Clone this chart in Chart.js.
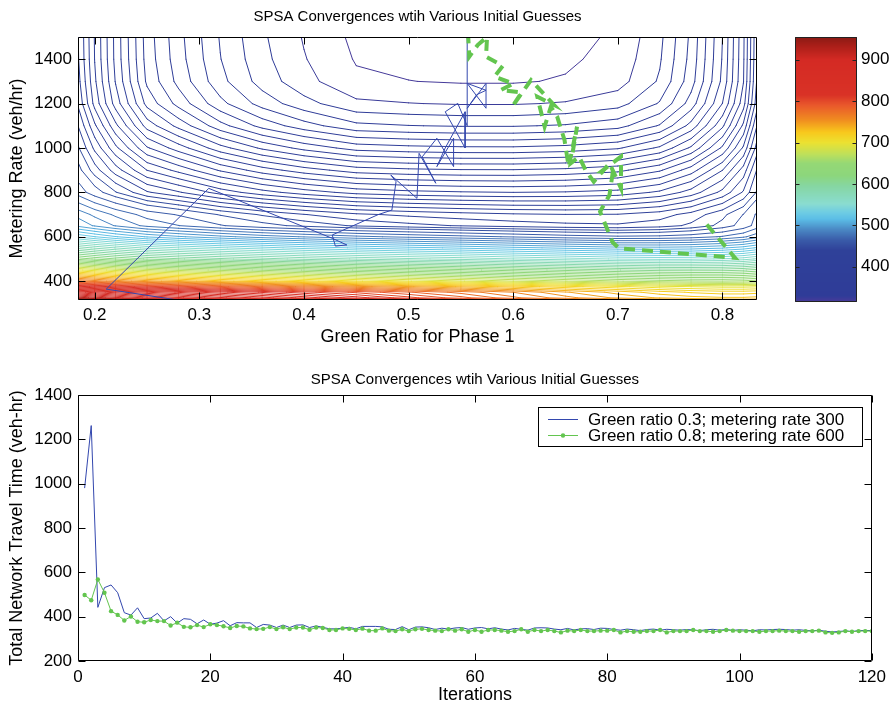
<!DOCTYPE html>
<html>
<head>
<meta charset="utf-8">
<script src="https://cdn.jsdelivr.net/npm/chart.js@4.4.1/dist/chart.umd.min.js"></script>
<style>
  html, body { margin: 0; padding: 0; background: #fff; }
  #page { position: relative; width: 892px; height: 706px; overflow: hidden; }
  canvas { position: absolute; }
</style>
</head>
<body>
<div id="page">
  <canvas id="contour" width="770" height="350" style="left:0;top:0"></canvas>
  <canvas id="colorbar" width="132" height="350" style="left:760px;top:0"></canvas>
  <canvas id="history" width="892" height="356" style="left:0;top:350px"></canvas>
</div>
<script>
// ---- surface: total network travel time over (green ratio, metering rate) ----
const greenCols = [0.18, 0.20, 0.22, 0.25, 0.28, 0.32, 0.36, 0.40, 0.45, 0.50, 0.55, 0.60, 0.65, 0.70, 0.74, 0.77, 0.80, 0.82, 0.84];
const meterRows = [300, 325, 350, 375, 400, 450, 500, 550, 600, 650, 700, 800, 900, 1000, 1100, 1200, 1300, 1400, 1500];
const costGrid = [
  [1008, 997, 986, 971, 958, 940, 924, 907, 887, 868, 849, 830, 811, 793, 779, 770, 762, 758, 756],
  [927, 917, 907, 894, 882, 866, 852, 837, 820, 803, 787, 770, 755, 742, 735, 731, 729, 729, 731],
  [885, 876, 868, 856, 847, 834, 823, 811, 798, 785, 773, 760, 745, 733, 724, 719, 716, 716, 718],
  [830, 822, 814, 804, 796, 786, 776, 766, 755, 745, 735, 725, 715, 706, 699, 696, 694, 694, 696],
  [771.8, 764, 757, 747.2, 740.2, 730.6, 722.6, 714.8, 705, 696.4, 688.6, 680, 672.2, 664.6, 659.8, 657.2, 656.4, 657.6, 661.8],
  [699, 692, 685, 676, 669.4, 661.8, 654.2, 647.6, 639.4, 632.8, 626.6, 620, 613.8, 608.2, 605, 604.4, 604.8, 607.2, 613],
  [630.6, 623, 616, 607, 601, 594, 587.6, 581.6, 575.2, 569.8, 565.4, 560, 555.6, 551.2, 549.8, 550.4, 552.6, 556.2, 563.8],
  [582.6, 574.6, 567.6, 558, 552, 545, 539, 533, 527, 522.6, 518.6, 514.2, 510.2, 506.8, 506.4, 507.4, 511, 515.6, 524.2],
  [536.2, 528.2, 520.6, 511.2, 505.2, 498.2, 492.2, 487.4, 482, 478, 474.6, 471.2, 467.8, 465.4, 466, 468.2, 472.8, 478.4, 488.6],
  [503.6, 495, 487.3, 477.8, 472.2, 464.7, 458.6, 454.1, 449.1, 446, 443.5, 441.4, 439.7, 439, 441.1, 445.3, 452, 459.2, 471.9],
  [495, 486, 478.4, 468.7, 463.3, 455.4, 449.2, 444.3, 439.2, 436.6, 434.6, 433, 432.2, 432.4, 435.3, 440.3, 448.3, 456.2, 470.1],
  [470.6, 459.6, 450.4, 438.8, 432.7, 423.5, 416.4, 411, 405.9, 403.8, 402.6, 402, 402.5, 404.2, 409.2, 416.6, 427.8, 438.8, 457.3],
  [461.3, 446.9, 434.9, 419.9, 412.1, 401.2, 392.9, 386.8, 381.1, 379.4, 378.6, 378.5, 379.6, 382.3, 389.1, 399.1, 413.9, 428.6, 453.1],
  [454.5, 436.5, 421.5, 402.7, 393, 380.3, 370.9, 364, 357.5, 355.9, 355.1, 355, 356.2, 359.2, 367.1, 379.1, 397.2, 415, 445.2],
  [448.2, 427.1, 409.5, 387.5, 376.1, 362.2, 352, 344.6, 337.6, 336.2, 335.5, 335.5, 336.6, 339.7, 348.6, 362.2, 382.8, 403.3, 438.3],
  [441.8, 417.9, 399.3, 376, 363.9, 349.8, 339.6, 332.2, 325.3, 324.2, 323.5, 323.5, 324.5, 327.6, 336.6, 350.7, 372.1, 393.5, 430.3],
  [439.1, 415.1, 395.5, 370.8, 358.2, 343.9, 333.5, 326, 319.2, 318.1, 317.5, 317.5, 318.5, 321.5, 330.8, 345.4, 367.5, 389.7, 428.2],
  [437.5, 413.8, 394.2, 369.5, 356.6, 342.2, 331.8, 324.4, 317.5, 316.5, 316, 316, 317, 320, 329.3, 344, 366.5, 389.1, 427],
  [437, 413.5, 394, 369, 356, 341.5, 331, 323.5, 316.5, 315.5, 315, 315, 316, 319, 328.4, 343.3, 366, 388.8, 426.5]
];
const contourLevels = [
  318, 324, 330, 336, 342, 348, 354, 360, 366, 372, 378, 384, 390, 396, 402, 408, 414, 420, 426, 432, 438, 444, 450, 456,
  464, 472, 480, 488, 496, 504, 512, 520, 528, 536, 544,
  552, 560, 568, 576, 584, 592, 600, 608, 616, 624, 632, 640, 648, 656, 664, 672, 680, 688, 696, 704,
  712, 720, 728, 736, 744, 752, 760, 768, 776, 784, 792, 800, 808, 816, 824, 832, 840, 848, 856, 864,
  872, 880, 888, 896, 904, 912, 920, 928, 936, 944
];

// colour map (value -> colour), as on the colour bar
const colorStops = [
  [315, '#4a3a9a'], [330, '#2f3c98'], [440, '#2f4199'], [465, '#3a5ca9'], [490, '#4a88c4'],
  [515, '#5bbde6'], [530, '#6ccbe4'], [552, '#8adcd0'], [595, '#86d6a2'], [620, '#8cd67c'],
  [650, '#95d875'], [672, '#bee05a'], [700, '#ece131'], [725, '#f8c81c'], [755, '#f08c20'],
  [790, '#e9582b'], [815, '#d93226'], [900, '#d42a24'], [935, '#a81e18'], [955, '#8a1a14']
];
const colorbarTicks = [400, 500, 600, 700, 800, 900];

// SPSA trajectories in the (green ratio, metering rate) plane
const blueRunRatio = [0.300, 0.211, 0.309, 0.427, 0.441, 0.430, 0.427, 0.471, 0.484, 0.488, 0.483, 0.508, 0.510, 0.526, 0.513, 0.527, 0.543, 0.543, 0.527, 0.535, 0.554, 0.554, 0.535, 0.547, 0.556, 0.556, 0.574, 0.574, 0.556, 0.565, 0.574, 0.556, 0.556];
const blueRunRate = [300, 364, 818, 593, 563, 558, 608, 700, 720, 848, 878, 773, 976, 841, 960, 1044, 916, 1044, 916, 1000, 1163, 1000, 1163, 1201, 1100, 1291, 1179, 1291, 1179, 1240, 1260, 1291, 1500];
const greenRunRatio = [0.785, 0.812, 0.701, 0.695, 0.683, 0.692, 0.695, 0.684, 0.703, 0.703, 0.692, 0.677, 0.669, 0.663, 0.655, 0.661, 0.653, 0.649, 0.642, 0.636, 0.630, 0.623, 0.639, 0.617, 0.599, 0.608, 0.588, 0.600, 0.582, 0.590, 0.574, 0.575, 0.566, 0.558, 0.557];
const greenRunRate = [655, 505, 548, 575, 713, 788, 886, 893, 961, 818, 931, 848, 901, 961, 931, 1096, 916, 1036, 1141, 1186, 1096, 1231, 1194, 1306, 1186, 1250, 1261, 1290, 1321, 1370, 1411, 1500, 1464, 1411, 1500];
const ratioTicks = [0.2, 0.3, 0.4, 0.5, 0.6, 0.7, 0.8];
const rateTicks = [400, 600, 800, 1000, 1200, 1400];

// total network travel time per iteration
const blueRunTime = [
  980, 1262, 442, 531, 543, 508, 418, 407, 440, 391, 394, 415, 381, 400, 371, 391, 388, 368, 385, 366,
  371, 382, 359, 373, 372, 372, 351, 365, 362, 351, 362, 351, 362, 363, 351, 358, 352, 345, 345, 348,
  352, 345, 356, 356, 356, 354, 343, 342, 355, 341, 353, 354, 350, 342, 348, 344, 349, 351, 343, 349,
  351, 345, 350, 344, 340, 347, 343, 339, 349, 350, 349, 344, 341, 347, 340, 345, 346, 342, 348, 347,
  342, 339, 344, 341, 337, 342, 344, 339, 343, 341, 339, 342, 340, 337, 341, 343, 339, 342, 338, 341,
  339, 336, 341, 340, 342, 343, 342, 339, 341, 338, 336, 339, 334, 331, 333, 336, 333, 337, 338, 337
];
const greenRunTime = [
  498, 474, 568, 508, 425, 408, 383, 401, 377, 375, 385, 380, 380, 360, 373, 354, 352, 362, 353, 366,
  362, 357, 349, 358, 356, 347, 344, 345, 353, 344, 352, 344, 351, 351, 341, 351, 349, 340, 340, 347,
  345, 340, 346, 337, 337, 347, 337, 335, 343, 335, 343, 345, 340, 337, 335, 343, 337, 343, 332, 340,
  332, 340, 340, 337, 332, 335, 343, 332, 340, 335, 340, 335, 329, 337, 335, 340, 335, 335, 337, 337,
  340, 329, 335, 332, 332, 335, 335, 340, 329, 335, 335, 335, 340, 335, 335, 332, 335, 340, 337, 335,
  335, 335, 332, 335, 335, 337, 335, 335, 332, 335, 335, 337, 329, 327, 329, 335, 332, 335, 335, 335
];
const iterationTicks = [0, 20, 40, 60, 80, 100, 120];
const timeTicks = [200, 400, 600, 800, 1000, 1200, 1400];

const BLUE = '#3347ae';
const GREEN = '#63c54f';
const FONT = '"Liberation Sans", Arial, Helvetica, sans-serif';
Chart.defaults.font.family = FONT;
Chart.defaults.font.size = 17;
Chart.defaults.color = '#000';

function hexRgb(h) {
  return [parseInt(h.slice(1, 3), 16), parseInt(h.slice(3, 5), 16), parseInt(h.slice(5, 7), 16)];
}
function colorAt(v) {
  if (v <= colorStops[0][0]) return colorStops[0][1];
  for (let k = 1; k < colorStops.length; k++) {
    if (v <= colorStops[k][0]) {
      const [v0, c0] = colorStops[k - 1], [v1, c1] = colorStops[k];
      const t = (v - v0) / (v1 - v0);
      const a = hexRgb(c0), b = hexRgb(c1);
      return 'rgb(' + a.map((x, i) => Math.round(x + t * (b[i] - x))).join(',') + ')';
    }
  }
  return colorStops[colorStops.length - 1][1];
}

// marching squares over the grid, drawn through the chart's scales
const contourPlugin = {
  id: 'contourLines',
  beforeDatasetsDraw(chart) {
    const { ctx, chartArea: a, scales: { x, y } } = chart;
    ctx.save();
    ctx.beginPath();
    ctx.rect(a.left, a.top, a.right - a.left, a.bottom - a.top);
    ctx.clip();
    ctx.lineCap = 'round';
    ctx.lineWidth = 1;
    for (const level of contourLevels) {
      ctx.strokeStyle = colorAt(level);
      ctx.beginPath();
      for (let j = 0; j < meterRows.length - 1; j++) {
        for (let i = 0; i < greenCols.length - 1; i++) {
          const c = [
            [greenCols[i], meterRows[j], costGrid[j][i]],
            [greenCols[i + 1], meterRows[j], costGrid[j][i + 1]],
            [greenCols[i + 1], meterRows[j + 1], costGrid[j + 1][i + 1]],
            [greenCols[i], meterRows[j + 1], costGrid[j + 1][i]]
          ];
          const hits = [];
          for (let e = 0; e < 4; e++) {
            const p = c[e], q = c[(e + 1) % 4];
            if ((p[2] < level) !== (q[2] < level)) {
              const t = (level - p[2]) / (q[2] - p[2]);
              hits.push([x.getPixelForValue(p[0] + t * (q[0] - p[0])), y.getPixelForValue(p[1] + t * (q[1] - p[1]))]);
            }
          }
          let pairs = [];
          if (hits.length === 2) pairs = [[0, 1]];
          else if (hits.length === 4) {
            const mid = (c[0][2] + c[1][2] + c[2][2] + c[3][2]) / 4;
            pairs = ((mid < level) === (c[0][2] < level)) ? [[0, 1], [2, 3]] : [[3, 0], [1, 2]];
          }
          for (const [s, t] of pairs) {
            ctx.moveTo(hits[s][0], hits[s][1]);
            ctx.lineTo(hits[t][0], hits[t][1]);
          }
        }
      }
      ctx.stroke();
    }
    ctx.restore();
  }
};

// MATLAB-like box with inward ticks on all four sides
function boxPlugin(len) {
  return {
    id: 'boxTicks',
    afterDatasetsDraw(chart) {
      const { ctx, chartArea: a, scales: { x, y } } = chart;
      const L = Math.round(a.left) + 0.5, R = Math.round(a.right) - 0.5;
      const T = Math.round(a.top) + 0.5, B = Math.round(a.bottom) - 0.5;
      ctx.save();
      ctx.strokeStyle = '#000';
      ctx.lineWidth = 1;
      ctx.beginPath();
      ctx.rect(L, T, R - L, B - T);
      x.ticks.forEach(t => {
        const px = Math.round(x.getPixelForValue(t.value)) + 0.5;
        ctx.moveTo(px, B); ctx.lineTo(px, B - len);
        ctx.moveTo(px, T); ctx.lineTo(px, T + len);
      });
      y.ticks.forEach(t => {
        const py = Math.round(y.getPixelForValue(t.value)) + 0.5;
        ctx.moveTo(L, py); ctx.lineTo(L + len, py);
        ctx.moveTo(R, py); ctx.lineTo(R - len, py);
      });
      ctx.stroke();
      ctx.restore();
    }
  };
}

function fixedTicks(list) {
  return s => { s.ticks = list.map(v => ({ value: v })); };
}
const plain = v => String(v);

// ---------- top: contour map with trajectories ----------
new Chart(document.getElementById('contour'), {
  type: 'scatter',
  data: {
    datasets: [
      {
        label: 'Green ratio 0.3; metering rate 300',
        data: blueRunRatio.map((g, k) => ({ x: g, y: blueRunRate[k] })),
        showLine: true, borderColor: BLUE, borderWidth: 1, pointRadius: 0, order: 1
      },
      {
        label: 'Green ratio 0.8; metering rate 600',
        data: greenRunRatio.map((g, k) => ({ x: g, y: greenRunRate[k] })),
        showLine: true, borderColor: GREEN, borderWidth: 4, borderDash: [11, 7], pointRadius: 0, order: 0
      }
    ]
  },
  options: {
    responsive: false,
    animation: false,
    layout: { padding: { right: 13 } },
    plugins: {
      legend: { display: false },
      tooltip: { enabled: false },
      title: {
        display: true, fullSize: false,
        text: 'SPSA Convergences wtih Various Initial Guesses',
        font: { size: 15, weight: 'normal' }, color: '#000',
        padding: { top: 8, bottom: 11 }
      }
    },
    scales: {
      x: {
        type: 'linear', min: 0.184, max: 0.833,
        afterFit: s => { s.height = 50; },
        afterBuildTicks: fixedTicks(ratioTicks),
        ticks: { padding: 5, callback: v => v.toFixed(1) },
        grid: { display: false, drawTicks: false },
        border: { display: false },
        title: { display: true, text: 'Green Ratio for Phase 1', font: { size: 18 }, padding: { top: 0, bottom: 2 } }
      },
      y: {
        type: 'linear', min: 315, max: 1500,
        afterFit: s => { s.width = 78; },
        afterBuildTicks: fixedTicks(rateTicks),
        ticks: { padding: 6, callback: plain },
        grid: { display: false, drawTicks: false },
        border: { display: false },
        title: { display: true, text: 'Metering Rate (veh/hr)', font: { size: 18 }, padding: { top: 6, bottom: 0 } }
      }
    }
  },
  plugins: [contourPlugin, boxPlugin(7)]
});

// ---------- colour bar ----------
const colorbarPlugin = {
  id: 'colorbarFill',
  beforeDatasetsDraw(chart) {
    const { ctx, chartArea: a, scales: { y } } = chart;
    ctx.save();
    for (let py = Math.floor(a.top); py < Math.ceil(a.bottom); py++) {
      ctx.fillStyle = colorAt(y.getValueForPixel(py + 0.5));
      ctx.fillRect(a.left, py, a.right - a.left, 1);
    }
    const L = Math.round(a.left) + 0.5, R = Math.round(a.right) - 0.5;
    ctx.strokeStyle = '#222';
    ctx.lineWidth = 1;
    ctx.beginPath();
    ctx.rect(L, Math.round(a.top) + 0.5, R - L, Math.round(a.bottom) - Math.round(a.top) - 1);
    y.ticks.forEach(t => {
      const py = Math.round(y.getPixelForValue(t.value)) + 0.5;
      ctx.moveTo(L, py); ctx.lineTo(L + 4, py);
      ctx.moveTo(R, py); ctx.lineTo(R - 4, py);
    });
    ctx.stroke();
    ctx.restore();
  }
};

new Chart(document.getElementById('colorbar'), {
  type: 'scatter',
  data: { datasets: [] },
  options: {
    responsive: false,
    animation: false,
    layout: { padding: { left: 35, top: 37, bottom: 48 } },
    plugins: { legend: { display: false }, tooltip: { enabled: false } },
    scales: {
      x: { display: false, min: 0, max: 1 },
      y: {
        position: 'right', min: 315, max: 955,
        afterFit: s => { s.width = 35; },
        afterBuildTicks: fixedTicks(colorbarTicks),
        ticks: { padding: 4, callback: plain },
        grid: { display: false, drawTicks: false },
        border: { display: false }
      }
    }
  },
  plugins: [colorbarPlugin]
});

// ---------- bottom: travel time per iteration ----------
const legendPlugin = {
  id: 'insideLegend',
  afterDraw(chart) {
    const { ctx } = chart;
    const left = 538.5, top = 57.5, w = 324, h = 39;
    ctx.save();
    ctx.fillStyle = '#fff';
    ctx.fillRect(left, top, w, h);
    ctx.strokeStyle = '#000';
    ctx.lineWidth = 1;
    ctx.strokeRect(left, top, w, h);
    ctx.font = '17px ' + FONT;
    ctx.textBaseline = 'middle';
    chart.data.datasets.forEach((ds, k) => {
      const cy = top + 12 + k * 16;
      ctx.strokeStyle = ds.borderColor;
      ctx.lineWidth = 1;
      ctx.beginPath();
      ctx.moveTo(548, cy); ctx.lineTo(578, cy);
      ctx.stroke();
      if (ds.pointRadius > 0) {
        ctx.fillStyle = ds.backgroundColor;
        ctx.beginPath();
        ctx.arc(563, cy, ds.pointRadius, 0, Math.PI * 2);
        ctx.fill();
      }
      ctx.fillStyle = '#000';
      ctx.fillText(ds.label, 588, cy + 1);
    });
    ctx.restore();
  }
};

new Chart(document.getElementById('history'), {
  type: 'line',
  data: {
    datasets: [
      {
        label: 'Green ratio 0.3; metering rate 300',
        data: blueRunTime.map((v, k) => ({ x: k + 1, y: v })),
        borderColor: BLUE, backgroundColor: BLUE, borderWidth: 1, pointRadius: 0, tension: 0, order: 1
      },
      {
        label: 'Green ratio 0.8; metering rate 600',
        data: greenRunTime.map((v, k) => ({ x: k + 1, y: v })),
        borderColor: GREEN, backgroundColor: GREEN, borderWidth: 1,
        pointRadius: 2.2, pointBorderWidth: 0, pointBackgroundColor: GREEN, tension: 0, order: 0
      }
    ]
  },
  options: {
    responsive: false,
    animation: false,
    layout: { padding: { right: 20 } },
    plugins: {
      legend: { display: false },
      tooltip: { enabled: false },
      title: {
        display: true, fullSize: false,
        text: 'SPSA Convergences wtih Various Initial Guesses',
        font: { size: 15, weight: 'normal' }, color: '#000',
        padding: { top: 21, bottom: 6 }
      }
    },
    scales: {
      x: {
        type: 'linear', min: 0, max: 120,
        afterFit: s => { s.height = 45; },
        afterBuildTicks: fixedTicks(iterationTicks),
        ticks: { padding: 6, callback: plain },
        grid: { display: false, drawTicks: false },
        border: { display: false },
        title: { display: true, text: 'Iterations', font: { size: 18 }, padding: { top: 0, bottom: 0 } }
      },
      y: {
        type: 'linear', min: 200, max: 1400,
        afterFit: s => { s.width = 78; },
        afterBuildTicks: fixedTicks(timeTicks),
        ticks: { padding: 6, callback: plain },
        grid: { display: false, drawTicks: false },
        border: { display: false },
        title: { display: true, text: 'Total Network Travel Time (veh-hr)', font: { size: 18 }, padding: { top: 6, bottom: 0 } }
      }
    }
  },
  plugins: [boxPlugin(7), legendPlugin]
});
</script>
</body>
</html>
